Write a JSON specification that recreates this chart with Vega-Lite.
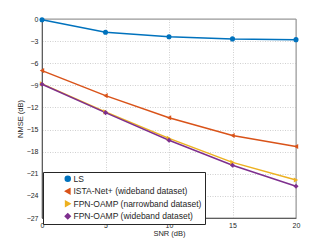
{
  "$schema": "https://vega.github.io/schema/vega-lite/v6.json",
  "autosize": "none",
  "width": 254,
  "height": 199,
  "padding": {"left": 42, "top": 19, "right": 31, "bottom": 27},
  "background": "white",
  "config": {
    "font": "Liberation Sans",
    "view": {"stroke": "#262626", "strokeWidth": 0.6},
    "axis": {
      "domainColor": "#262626", "domainWidth": 0.6,
      "gridColor": "#b0b0b0", "gridDash": [1, 1.5], "gridWidth": 0.6,
      "ticks": false,
      "labelColor": "#262626", "labelFontSize": 7, "labelFont": "Liberation Sans",
      "titleColor": "#262626", "titleFontSize": 7.5, "titleFontWeight": "normal", "titleFont": "Liberation Sans"
    }
  },
  "data": {"values": [
    {"series": "LS", "snr": 0, "nmse": -0.1},
    {"series": "LS", "snr": 5, "nmse": -1.8},
    {"series": "LS", "snr": 10, "nmse": -2.4},
    {"series": "LS", "snr": 15, "nmse": -2.7},
    {"series": "LS", "snr": 20, "nmse": -2.8},
    {"series": "ISTA-Net+ (wideband dataset)", "snr": 0, "nmse": -7.0},
    {"series": "ISTA-Net+ (wideband dataset)", "snr": 5, "nmse": -10.4},
    {"series": "ISTA-Net+ (wideband dataset)", "snr": 10, "nmse": -13.4},
    {"series": "ISTA-Net+ (wideband dataset)", "snr": 15, "nmse": -15.8},
    {"series": "ISTA-Net+ (wideband dataset)", "snr": 20, "nmse": -17.3},
    {"series": "FPN-OAMP (narrowband dataset)", "snr": 0, "nmse": -8.8},
    {"series": "FPN-OAMP (narrowband dataset)", "snr": 5, "nmse": -12.6},
    {"series": "FPN-OAMP (narrowband dataset)", "snr": 10, "nmse": -16.2},
    {"series": "FPN-OAMP (narrowband dataset)", "snr": 15, "nmse": -19.45},
    {"series": "FPN-OAMP (narrowband dataset)", "snr": 20, "nmse": -21.85},
    {"series": "FPN-OAMP (wideband dataset)", "snr": 0, "nmse": -8.85},
    {"series": "FPN-OAMP (wideband dataset)", "snr": 5, "nmse": -12.7},
    {"series": "FPN-OAMP (wideband dataset)", "snr": 10, "nmse": -16.45},
    {"series": "FPN-OAMP (wideband dataset)", "snr": 15, "nmse": -19.85},
    {"series": "FPN-OAMP (wideband dataset)", "snr": 20, "nmse": -22.7}
  ]},
  "encoding": {
    "x": {"field": "snr", "type": "quantitative", "title": "SNR (dB)",
      "scale": {"domain": [0, 20], "nice": false, "zero": false},
      "axis": {"values": [0, 5, 10, 15, 20], "labelPadding": 3, "titlePadding": 0, "titleY": 11, "titleBaseline": "top", "labelFlush": false}},
    "y": {"field": "nmse", "type": "quantitative", "title": "NMSE (dB)",
      "scale": {"domain": [-27, 0], "nice": false, "zero": false},
      "axis": {"values": [-27, -24, -21, -18, -15, -12, -9, -6, -3, 0], "labelPadding": 4, "titlePadding": 2, "labelFlush": false}},
    "color": {"field": "series", "type": "nominal",
      "scale": {
        "domain": ["LS", "ISTA-Net+ (wideband dataset)", "FPN-OAMP (narrowband dataset)", "FPN-OAMP (wideband dataset)"],
        "range": ["#0072BD", "#D95319", "#EDB120", "#7E2F8E"]
      },
      "legend": {
        "title": null,
        "orient": "none",
        "legendX": 1,
        "legendY": 153,
        "direction": "vertical",
        "fillColor": "white",
        "strokeColor": "#262626",
        "padding": 3,
        "cornerRadius": 0,
        "labelFontSize": 8.5,
        "labelColor": "#262626",
        "labelFont": "Liberation Sans",
        "labelLimit": 300,
        "symbolSize": 25,
        "symbolOffset": 17.5,
        "labelOffset": 1.5,
        "rowPadding": 2.5,
        "clipHeight": 7.5
      }
    }
  },
  "layer": [
    {"mark": {"type": "line", "strokeWidth": 1.5}},
    {"mark": {"type": "point", "filled": true, "opacity": 1, "size": 26},
     "encoding": {
       "shape": {"field": "series", "type": "nominal", "legend": null,
         "scale": {
           "domain": ["LS", "ISTA-Net+ (wideband dataset)", "FPN-OAMP (narrowband dataset)", "FPN-OAMP (wideband dataset)"],
           "range": ["circle", "triangle-left", "triangle-right", "diamond"]
         }}
     }}
  ]
}
